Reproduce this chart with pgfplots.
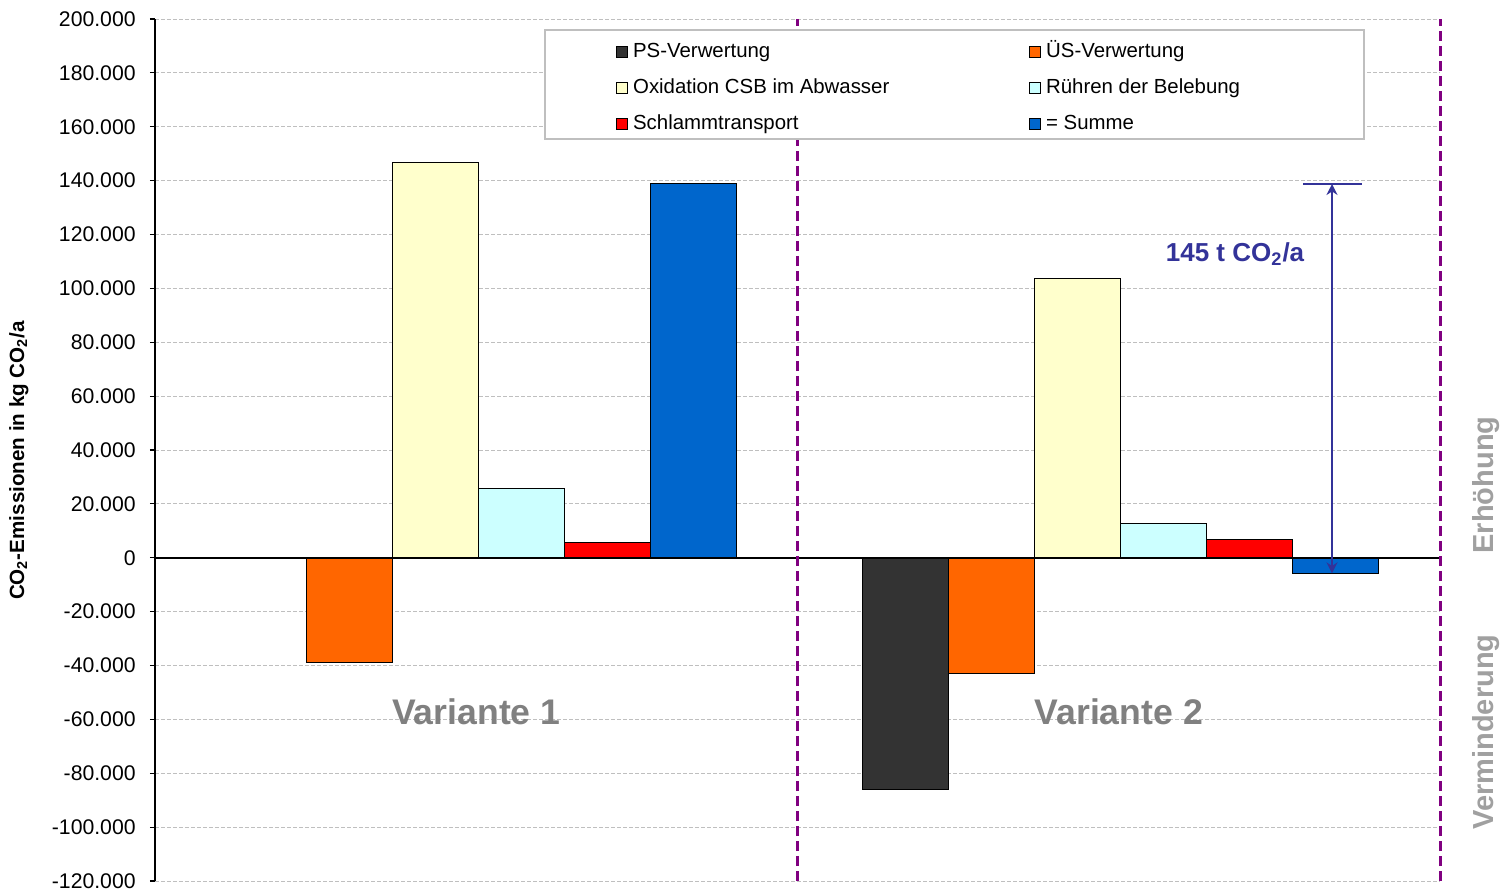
\documentclass[border=0pt]{standalone}
\usepackage{fontspec}
\setmainfont{Liberation Sans}
\usepackage{pgfplots}
\pgfplotsset{compat=1.18}
\usetikzlibrary{arrows.meta}
\definecolor{cPS}{HTML}{333333}
\definecolor{cUS}{HTML}{FF6600}
\definecolor{cOx}{HTML}{FFFFCC}
\definecolor{cRu}{HTML}{CCFFFF}
\definecolor{cSc}{HTML}{FF0000}
\definecolor{cSu}{HTML}{0066CC}
\definecolor{cNavy}{HTML}{333399}
\definecolor{cPurple}{HTML}{800080}
\definecolor{cGridG}{HTML}{BFBFBF}
\definecolor{cVar}{HTML}{808080}
\definecolor{cSide}{HTML}{A0A0A0}
\pgfplotsset{
  mybar/.style={ybar, bar width=0.1338, draw=black, line width=0.5pt,
    legend image code/.code={\draw[##1,draw=black,line width=0.5pt] (0pt,-2.7pt) rectangle (5.4pt,2.7pt);}},
}
\begin{document}
\begin{tikzpicture}
\begin{axis}[
  at={(0pt,0pt)}, anchor=south west,
  scale only axis, width=642.5pt, height=431pt,
  xmin=-0.5, xmax=1.5, ymin=-120000, ymax=200000,
  axis x line=none, axis y line*=left,
  y axis line style={black, line width=0.75pt},
  clip=false,
  scaled y ticks=false,
  ytick={-120000,-100000,...,200000},
  yticklabels={-120.000,-100.000,-80.000,-60.000,-40.000,-20.000,0,20.000,40.000,60.000,80.000,100.000,120.000,140.000,160.000,180.000,200.000},
  yticklabel style={font=\fontsize{10.6}{12}\selectfont, inner sep=0pt, xshift=-7pt},
  tick align=outside, major tick length=2.5pt,
  ytick style={black, line width=0.6pt},
  ymajorgrids,
  major grid style={cGridG, line width=0.5pt, dash pattern=on 2pt off 1pt},
  ylabel={\textbf{CO\textsubscript{2}-Emissionen in kg CO\textsubscript{2}/a}},
  every axis y label/.style={at={(axis description cs:-0.106,0.488)}, rotate=90, anchor=center, font=\fontsize{10.3}{12}\selectfont},
  legend columns=2,
  legend cell align=left,
  legend style={at={(axis description cs:0.3587,0.9733)}, anchor=north west,
    draw=none, fill=none, inner sep=0pt, row sep=8.5pt,
    font=\fontsize{10.2}{12}\selectfont,
    nodes={inner sep=0pt, text height=7.5pt, text depth=2pt},
    /tikz/every odd column/.append style={column sep=2.5pt},
    /tikz/every even column/.append style={column sep=70pt}},
]
% PS-Verwertung
\addplot[mybar, bar shift=-0.3315, fill=cPS] coordinates {(1,-86200)};
\addlegendentry{PS-Verwertung}
% ÜS-Verwertung
\addplot[mybar, bar shift=-0.1977, fill=cUS] coordinates {(0,-38700) (1,-42800)};
\addlegendentry{ÜS-Verwertung}
% Oxidation CSB im Abwasser
\addplot[mybar, bar shift=-0.0639, fill=cOx] coordinates {(0,146900) (1,103500)};
\addlegendentry{Oxidation CSB im Abwasser}
% Rühren der Belebung
\addplot[mybar, bar shift=0.0699, fill=cRu] coordinates {(0,25800) (1,12900)};
\addlegendentry{Rühren der Belebung}
% Schlammtransport
\addplot[mybar, bar shift=0.2037, fill=cSc] coordinates {(0,5700) (1,6900)};
\addlegendentry{Schlammtransport}
% Summe
\addplot[mybar, bar shift=0.3375, fill=cSu] coordinates {(0,138750) (1,-5800)};
\addlegendentry{= Summe}

% x axis line at zero
\draw[black, line width=0.75pt] (axis cs:-0.5,0) -- (axis cs:1.5,0);
\draw[black, line width=0.6pt] (axis cs:-0.5,0) -- ++(0pt,-2.5pt);
\draw[black, line width=0.6pt] (axis cs:0.5,0) -- ++(0pt,-2.5pt);
\draw[black, line width=0.6pt] (axis cs:1.5,0) -- ++(0pt,-2.5pt);
% purple separators
\draw[cPurple, line width=1.5pt, dash pattern=on 5pt off 2.5pt] (axis cs:0.5,-120000) -- (axis cs:0.5,200000);
\draw[cPurple, line width=1.5pt, dash pattern=on 5pt off 2.5pt] (axis cs:1.5,-120000) -- (axis cs:1.5,200000);
% legend box
\draw[cGridG, line width=0.75pt, fill=white] (axis description cs:0.3035,0.8608) rectangle (axis description cs:0.9409,0.9872);
% annotations
\node[text=cVar, font=\bfseries\fontsize{17.8}{20}\selectfont] at (axis cs:0,-57300) {Variante 1};
\node[text=cVar, font=\bfseries\fontsize{17.8}{20}\selectfont] at (axis cs:1,-57300) {Variante 2};
\draw[cNavy, line width=1.2pt] (axis cs:1.2868,138750) -- (axis cs:1.3786,138750);
\draw[cNavy, line width=1.2pt, {Stealth[length=5.5pt,width=5.5pt]}-{Stealth[length=5.5pt,width=5.5pt]}] (axis cs:1.3319,138750) -- (axis cs:1.3319,-5800);
\node[text=cNavy, font=\bfseries\fontsize{13}{15}\selectfont] at (axis cs:1.181,112800) {145 t CO\textsubscript{2}/a};
\node[rotate=90, text=cSide, font=\bfseries\fontsize{14.5}{16}\selectfont] at (axis cs:1.5724,27000) {Erhöhung};
\node[rotate=90, text=cSide, font=\bfseries\fontsize{14.5}{16}\selectfont] at (axis cs:1.5724,-64700) {Verminderung};
\end{axis}
\pgfresetboundingbox
\path (-77.5pt,-5pt) rectangle (673.5pt,440.5pt);
\end{tikzpicture}
\end{document}
